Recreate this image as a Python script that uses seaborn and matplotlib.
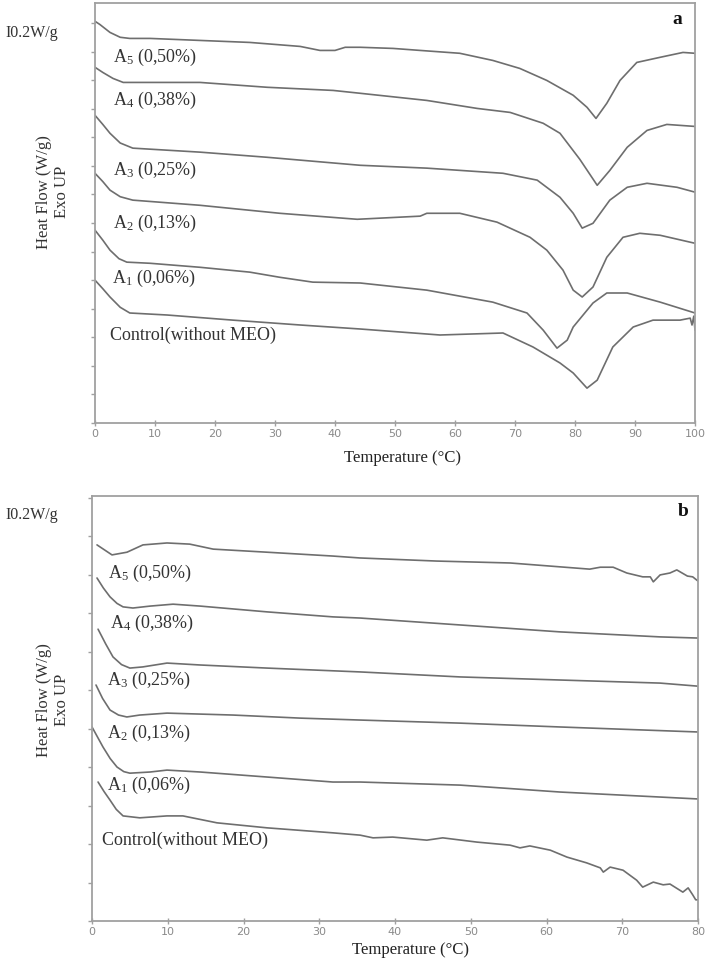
import numpy as np
import pandas as pd
import matplotlib
matplotlib.use("Agg")
import matplotlib.pyplot as plt
import seaborn as sns

# ---------------- Panel a data (Temperature °C, Heat flow, offset curves) ----------------
a_A5_T = [0, 0.8, 2.5, 4.2, 5.8, 9.2, 17.5, 25.8, 34.2, 37.5, 40, 41.7, 44.2, 49.7, 54.2, 60.8,
          66.3, 70.8, 75.3, 79.7, 82, 83.5, 85.3, 87.5, 90.3, 94.2, 98, 100]
a_A5_H = [14.06, 13.95, 13.67, 13.50, 13.46, 13.46, 13.39, 13.32, 13.18, 13.04, 13.04, 13.15, 13.15,
          13.11, 13.04, 12.94, 12.69, 12.41, 11.99, 11.47, 11.05, 10.66, 11.19, 11.99, 12.62,
          12.80, 12.97, 12.94]

a_A4_T = [0, 1.3, 3, 4.7, 7.5, 17.5, 28.7, 39.7, 44.2, 55.3, 63.7, 69.2, 74.7, 77.5, 80.8, 83.7,
          85.8, 88.7, 92, 95.3, 100]
a_A4_H = [12.45, 12.27, 12.06, 11.92, 11.92, 11.92, 11.75, 11.64, 11.54, 11.29, 11.01, 10.87,
          10.49, 10.14, 9.23, 8.32, 8.84, 9.65, 10.24, 10.45, 10.38]

a_A3_T = [0, 1.3, 2.5, 4.2, 6.3, 17.5, 28.7, 44.2, 55.3, 68, 73.7, 77.5, 79.7, 81.2, 83, 85.8,
          88.7, 92, 97, 100]
a_A3_H = [10.77, 10.45, 10.14, 9.80, 9.62, 9.48, 9.30, 9.02, 8.92, 8.74, 8.50, 7.90, 7.34, 6.82,
          6.99, 7.80, 8.25, 8.39, 8.25, 8.08]

a_A2_T = [0, 1.3, 2.5, 4.2, 6.3, 17.5, 30.8, 43.7, 54.2, 55.3, 60.8, 67, 72.5, 75.3, 78, 79.7,
          81.2, 83, 85.3, 88, 90.8, 94.2, 100]
a_A2_H = [8.74, 8.45, 8.15, 7.92, 7.80, 7.62, 7.34, 7.13, 7.24, 7.34, 7.34, 7.03, 6.50, 6.05, 5.35,
          4.65, 4.41, 4.76, 5.80, 6.50, 6.64, 6.57, 6.29]

a_A1_T = [0, 1.3, 2.5, 4.0, 5.3, 9.2, 17.5, 25.8, 30.8, 36.3, 44.2, 55.3, 66.3, 72, 74.7, 77,
          78.7, 79.7, 83, 85.3, 88.7, 94.2, 100]
a_A1_H = [6.75, 6.40, 6.05, 5.75, 5.63, 5.59, 5.45, 5.28, 5.10, 4.93, 4.90, 4.65, 4.23, 3.85,
          3.25, 2.62, 2.90, 3.36, 4.20, 4.55, 4.55, 4.23, 3.85]

a_C_T = [0, 1.3, 2.5, 4.2, 5.8, 12, 23, 34.2, 44.2, 57.5, 68, 73, 77.5, 79.7, 82, 83.7, 86.3,
         89.7, 93, 97.5, 99.2, 99.5, 99.8, 100]
a_C_H = [5.0, 4.70, 4.41, 4.05, 3.85, 3.78, 3.60, 3.43, 3.29, 3.08, 3.15, 2.66, 2.10, 1.75, 1.22,
         1.50, 2.66, 3.36, 3.60, 3.60, 3.67, 3.43, 3.74, 3.25]

# ---------------- Panel b data ----------------
b_A5_T = [0.66, 2.64, 4.62, 6.73, 9.9, 12.9, 16, 23.1, 31.8, 35.4, 45.5, 55.2, 65.7, 67.1, 68.8,
          70.6, 72.7, 73.7, 74.1, 75, 76.3, 77.2, 78.6, 79.3, 80]
b_A5_H = [9.77, 9.51, 9.58, 9.77, 9.82, 9.79, 9.66, 9.58, 9.48, 9.43, 9.35, 9.30, 9.14, 9.19, 9.19,
          9.04, 8.94, 8.94, 8.81, 8.99, 9.04, 9.12, 8.96, 8.94, 8.83]

b_A4_T = [0.66, 1.5, 2.38, 3.3, 4.1, 5.4, 7.66, 10.7, 14.3, 23.1, 31.8, 35.4, 48.6, 61.8, 75, 80]
b_A4_H = [8.91, 8.65, 8.42, 8.25, 8.16, 8.13, 8.18, 8.23, 8.18, 8.03, 7.90, 7.87, 7.69, 7.51, 7.38,
          7.35]

b_A3_T = [0.8, 1.8, 2.77, 3.9, 5.0, 6.7, 9.9, 14.3, 23.1, 35.4, 48.6, 61.8, 75, 80]
b_A3_H = [7.58, 7.20, 6.86, 6.66, 6.57, 6.60, 6.70, 6.65, 6.57, 6.47, 6.34, 6.26, 6.18, 6.10]

b_A2_T = [0.53, 1.4, 2.38, 3.5, 4.6, 6.3, 9.9, 18.6, 27.5, 35.4, 48.6, 61.8, 80]
b_A2_H = [6.13, 5.78, 5.48, 5.35, 5.30, 5.35, 5.40, 5.35, 5.27, 5.22, 5.14, 5.04, 4.91]

b_A1_T = [0, 1.45, 2.4, 3.3, 4.2, 5.0, 7.66, 9.9, 14.3, 23.1, 31.8, 35.4, 48.6, 61.8, 75, 80]
b_A1_H = [5.04, 4.52, 4.22, 4.00, 3.88, 3.84, 3.87, 3.92, 3.87, 3.74, 3.61, 3.61, 3.53, 3.35,
          3.22, 3.17]

b_C_T = [0.8, 1.6, 2.38, 3.2, 4.1, 6.3, 9.9, 12, 16.5, 23.1, 31.8, 35.4, 37.1, 39.7, 44.2, 46.3,
         50.8, 55.2, 56.5, 57.8, 60.5, 62.7, 65.3, 67.1, 67.5, 68.4, 70.1, 71.9, 72.7, 74.1, 75.4,
         76.3, 78, 78.7, 79.3, 79.7, 80]
b_C_H = [3.61, 3.36, 3.14, 2.90, 2.73, 2.68, 2.73, 2.73, 2.55, 2.42, 2.29, 2.23, 2.16, 2.18, 2.10,
         2.16, 2.05, 1.97, 1.90, 1.95, 1.84, 1.66, 1.51, 1.38, 1.27, 1.40, 1.32, 1.06, 0.88, 1.01,
         0.94, 0.96, 0.75, 0.86, 0.68, 0.55, 0.55]

# curve labels
curve_labels = ["A$_\\mathregular{5}$ (0,50%)", "A$_\\mathregular{4}$ (0,38%)",
                "A$_\\mathregular{3}$ (0,25%)", "A$_\\mathregular{2}$ (0,13%)",
                "A$_\\mathregular{1}$ (0,06%)", "Control(without MEO)"]
a_label_T = [3.0, 3.0, 3.0, 3.0, 2.8, 2.5]
a_label_H = [12.80, 11.29, 8.85, 6.99, 5.07, 3.08]
b_label_T = [2.1, 2.4, 2.0, 2.0, 2.0, 1.3]
b_label_H = [9.04, 7.74, 6.26, 4.88, 3.51, 2.10]

a_xticks = [0, 10, 20, 30, 40, 50, 60, 70, 80, 90, 100]
b_xticks = [0, 10, 20, 30, 40, 50, 60, 70, 80]

sns.set_style("white")
plt.rcParams['font.family'] = ['Liberation Serif', 'DejaVu Serif']
plt.rcParams['mathtext.fontset'] = 'custom'
plt.rcParams['mathtext.rm'] = 'Liberation Serif'
plt.rcParams['mathtext.it'] = 'Liberation Serif:italic'
plt.rcParams['mathtext.bf'] = 'Liberation Serif:bold'

LINE = "#6e6e6e"
SPINE = "#a0a0a0"
TXT = "#333333"
W, H = 709, 960

fig = plt.figure(figsize=(W / 100, H / 100), dpi=100)
ax_a = fig.add_axes([95 / W, 1 - 423 / H, 600 / W, 420 / H])
ax_b = fig.add_axes([92 / W, 1 - 921 / H, 606 / W, 425 / H])


def draw(ax, curves, labels, lt, lh, xticks, xmax, ymax):
    for T, Hf in curves:
        df = pd.DataFrame({"T": T, "H": Hf})
        sns.lineplot(data=df, x="T", y="H", ax=ax, color=LINE, linewidth=1.2,
                     sort=False, estimator=None)
    for ln in ax.lines:
        ln.set_solid_joinstyle("round")
    for s, x, y in zip(labels, lt, lh):
        ax.text(x, y, s, ha="left", va="center", fontsize=13, color=TXT)
    ax.set_xlim(0, xmax)
    ax.set_ylim(0, ymax)
    ax.set_xticks(xticks)
    ax.set_xticklabels([str(t) for t in xticks], family="DejaVu Sans")
    ax.set_yticks(np.arange(0, int(ymax) + 1))
    ax.set_xlabel("")
    ax.set_ylabel("")
    ax.tick_params(axis="x", labelsize=8, labelcolor="#8a8a8a", colors=SPINE,
                   direction="inout", length=5, width=1, pad=2, bottom=True)
    ax.tick_params(axis="y", labelleft=False, colors=SPINE, direction="out",
                   length=3, width=1, left=True)
    for sp in ax.spines.values():
        sp.set_color(SPINE)
        sp.set_linewidth(1.3)
        sp.set_visible(True)


draw(ax_a, [(a_A5_T, a_A5_H), (a_A4_T, a_A4_H), (a_A3_T, a_A3_H), (a_A2_T, a_A2_H),
            (a_A1_T, a_A1_H), (a_C_T, a_C_H)],
     curve_labels, a_label_T, a_label_H, a_xticks, 100, 14.7)
draw(ax_b, [(b_A5_T, b_A5_H), (b_A4_T, b_A4_H), (b_A3_T, b_A3_H), (b_A2_T, b_A2_H),
            (b_A1_T, b_A1_H), (b_C_T, b_C_H)],
     curve_labels, b_label_T, b_label_H, b_xticks, 80, 11.04)
ax_b.set_xticks(np.arange(5, 80, 10), minor=True)
ax_b.tick_params(axis="x", which="minor", colors=SPINE, direction="inout", length=3, width=1)

# figure texts
for ycen, ylab, ytemp, xtemp, panel, px, py in [(33, 192, 458, 403, "a", 672, 20),
                                                 (515, 700, 950, 410, "b", 678, 512)]:
    fig.text(5 / W, 1 - ycen / H, "I0.2W/g", ha="left", va="center", fontsize=11.5, color=TXT)
    fig.text(53 / W, 1 - ylab / H, "Heat Flow (W/g)\nExo UP", rotation=90, ha="center",
             va="center", multialignment="center", fontsize=12, color=TXT, linespacing=1.15)
    fig.text(xtemp / W, 1 - ytemp / H, "Temperature (°C)", ha="center", va="center",
             fontsize=12, color="#222222")
    fig.text(px / W, 1 - py / H, panel, ha="left", va="center", fontsize=14,
             fontweight="bold", color="#111111")

fig.savefig("out.png", dpi=100)
